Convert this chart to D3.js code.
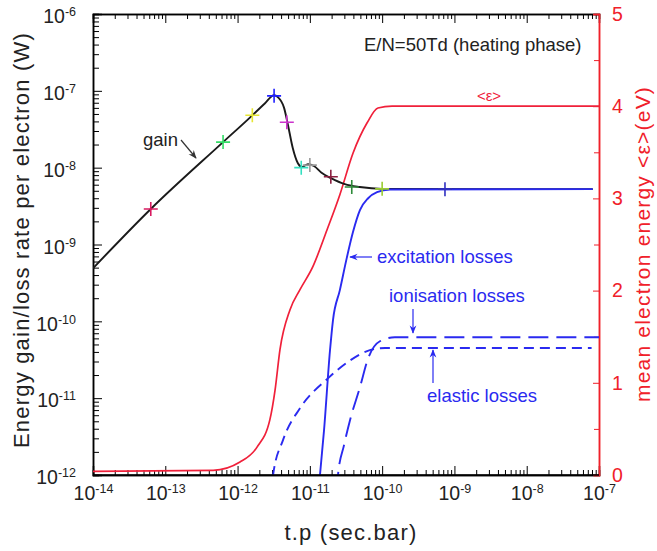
<!DOCTYPE html>
<html>
<head>
<meta charset="utf-8">
<style>
  body { margin: 0; background: #fff; }
  svg { font-family: Arial, "Liberation Sans", sans-serif; }
  .axis .domain { stroke: #000; stroke-width: 1.5px; }
  .axis .tick line { stroke: #000; stroke-width: 1px; }
  .axis .tick text { font-size: 19.5px; fill: #222; }
  .red .domain, .red .tick line { stroke: #f0202a; }
  .red .tick text { fill: #f0202a; }
  .title { letter-spacing: 1.2px; }
</style>
</head>
<body>
<svg width="657" height="551"></svg>
<script src="https://d3js.org/d3.v7.min.js"></script>
<script>
// ---- data ----
// gain, W per electron vs t.p (sec.bar)
let gainT = [1e-14, 6.3e-14, 6.3e-13, 1.6e-12, 2.4e-12, 3.2e-12, 3.6e-12, 4.4e-12, 4.98e-12, 5.8e-12, 6.8e-12, 7.8e-12, 9.4e-12, 1.14e-11, 1.47e-11, 1.96e-11, 3.05e-11, 4.9e-11, 1e-10, 8.2e-8];
let gainV = [4.9e-10, 2.9e-9, 2.15e-8, 4.8e-8, 6.9e-8, 8.8e-8, 8.3e-8, 6.0e-8, 3.6e-8, 1.8e-8, 1.15e-8, 1.02e-8, 1.11e-8, 1.05e-8, 8.5e-9, 7.3e-9, 6.1e-9, 5.6e-9, 5.3e-9, 5.25e-9];

// excitation losses
let excT = [1.3e-11, 1.38e-11, 1.57e-11, 1.9e-11, 2.09e-11, 2.6e-11, 3.26e-11, 3.95e-11, 4.93e-11, 6.4e-11, 8.5e-11, 1.28e-10, 8.2e-8];
let excV = [5e-13, 1e-12, 3.8e-12, 4.2e-11, 1.04e-10, 2.55e-10, 6.85e-10, 1.45e-9, 2.8e-9, 4.0e-9, 4.8e-9, 5.2e-9, 5.25e-9];

// elastic losses
let elaT = [2.9e-12, 3.1e-12, 4.25e-12, 7.3e-12, 1.73e-11, 3.6e-11, 6.2e-11, 1.1e-10, 7.9e-8];
let elaV = [6e-13, 1e-12, 2.84e-12, 7.4e-12, 1.77e-11, 3.1e-11, 4.1e-11, 4.5e-11, 4.5e-11];

// ionisation losses
let ionT = [2.35e-11, 2.45e-11, 2.97e-11, 3.6e-11, 4.93e-11, 6.4e-11, 9.3e-11, 1.5e-10, 1e-7];
let ionV = [6e-13, 1e-12, 2.45e-12, 5.2e-12, 1.39e-11, 3.3e-11, 5.5e-11, 6.2e-11, 6.2e-11];

// mean electron energy <eps> (eV), right axis
let epsT = [1e-14, 4.6e-13, 1.08e-12, 1.85e-12, 2.8e-12, 3.3e-12, 3.86e-12, 5.3e-12, 7.3e-12, 1.1e-11, 1.73e-11, 2.6e-11, 3.95e-11, 6.2e-11, 8.75e-11, 1.37e-10, 1e-7];
let epsV = [0.04, 0.05, 0.14, 0.30, 0.60, 0.92, 1.36, 1.79, 2.01, 2.26, 2.66, 3.04, 3.49, 3.82, 3.98, 4.0, 4.0];

// plus markers on the gain curve
let markT = [6.3e-14, 6.3e-13, 1.6e-12, 3.2e-12, 4.8e-12, 7.6e-12, 1.0e-11, 1.95e-11, 3.8e-11, 1.0e-10, 7.4e-10];
let markV = [2.9e-9, 2.15e-8, 4.8e-8, 8.6e-8, 3.9e-8, 1.0e-8, 1.08e-8, 7.6e-9, 5.6e-9, 5.3e-9, 5.25e-9];
let markC = ["#d81b60", "#33dd66", "#e6e633", "#2020ff", "#cc33cc", "#33e0c0", "#999999", "#8b2040", "#2e8b3a", "#9acd32", "#3030c0"];

let xDecades = [1e-14, 1e-13, 1e-12, 1e-11, 1e-10, 1e-9, 1e-8, 1e-7];
let yDecades = [1e-12, 1e-11, 1e-10, 1e-9, 1e-8, 1e-7, 1e-6];
let epsTicks = [0, 1, 2, 3, 4, 5];
let epsMinor = [0.5, 1.5, 2.5, 3.5, 4.5];

// ---- layout ----
let margin = { top: 14, right: 58, bottom: 76, left: 93 };
let W = 657, H = 551;
let pL = margin.left, pR = W - margin.right, pT = margin.top, pB = H - margin.bottom;

let svg = d3.select("svg");

let x = d3.scaleLog().domain([1e-14, 1e-7]).range([pL, pR]);
let y = d3.scaleLog().domain([1e-12, 1e-6]).range([pB, pT]);
let y2 = d3.scaleLinear().domain([0, 5]).range([pB, pT]);

function minors(decades) {
    let out = [];
    decades.slice(0, -1).forEach(d => { for (let k = 2; k <= 9; k++) out.push(d * k); });
    return out;
}

function supLabels(sel, anchor) {
    sel.selectAll(".tick text").each(function (d) {
        let t = d3.select(this);
        t.text(null).attr("text-anchor", anchor);
        t.append("tspan").text("10");
        t.append("tspan").attr("dy", -7).attr("font-size", 12.5).text(Math.round(Math.log10(d)));
    });
}

// clip for curves
svg.append("clipPath").attr("id", "plot")
    .append("rect").attr("x", pL).attr("y", pT).attr("width", pR - pL).attr("height", pB - pT);

// minor ticks
svg.append("g").attr("class", "axis").attr("transform", `translate(0,${pB})`)
    .call(d3.axisBottom(x).tickValues(minors(xDecades)).tickSize(-5).tickFormat(""));
svg.append("g").attr("class", "axis").attr("transform", `translate(0,${pT})`)
    .call(d3.axisTop(x).tickValues(minors(xDecades)).tickSize(-5).tickFormat(""));
svg.append("g").attr("class", "axis").attr("transform", `translate(${pL},0)`)
    .call(d3.axisLeft(y).tickValues(minors(yDecades)).tickSize(-6).tickFormat(""));

// major ticks
let xb = svg.append("g").attr("class", "axis").attr("transform", `translate(0,${pB})`)
    .call(d3.axisBottom(x).tickValues(xDecades).tickSize(-9).tickPadding(11));
supLabels(xb, "middle");
svg.append("g").attr("class", "axis").attr("transform", `translate(0,${pT})`)
    .call(d3.axisTop(x).tickValues(xDecades).tickSize(-9).tickFormat(""));
let yl = svg.append("g").attr("class", "axis").attr("transform", `translate(${pL},0)`)
    .call(d3.axisLeft(y).tickValues(yDecades).tickSize(-9).tickPadding(17));
supLabels(yl, "end");
yl.selectAll(".tick text").attr("dy", "0.45em");

// right energy axis
svg.append("g").attr("class", "axis red").attr("transform", `translate(${pR},0)`)
    .call(d3.axisRight(y2).tickValues(epsMinor).tickSize(-5).tickFormat(""));
svg.append("g").attr("class", "axis red").attr("transform", `translate(${pR},0)`)
    .call(d3.axisRight(y2).tickValues(epsTicks).tickSize(-6).tickPadding(13).tickFormat(d3.format("d")));

// curves
let logLine = d3.line().x(d => x(d[0])).y(d => y(d[1])).curve(d3.curveMonotoneX);
let epsLine = d3.line().x(d => x(d[0])).y(d => y2(d[1])).curve(d3.curveMonotoneX);

let plot = svg.append("g").attr("clip-path", "url(#plot)");

plot.append("path").datum(d3.zip(epsT, epsV)).attr("d", epsLine)
    .attr("fill", "none").attr("stroke", "#f0203a").attr("stroke-width", 1.7);

plot.append("path").datum(d3.zip(gainT, gainV)).attr("d", logLine)
    .attr("fill", "none").attr("stroke", "#1a1a1a").attr("stroke-width", 1.9);

plot.append("path").datum(d3.zip(elaT, elaV)).attr("d", logLine)
    .attr("fill", "none").attr("stroke", "#2a2af0").attr("stroke-width", 1.9)
    .attr("stroke-dasharray", "10,6");

plot.append("path").datum(d3.zip(ionT, ionV)).attr("d", logLine)
    .attr("fill", "none").attr("stroke", "#2a2af0").attr("stroke-width", 1.9)
    .attr("stroke-dasharray", "20,8");

plot.append("path").datum(d3.zip(excT, excV)).attr("d", logLine)
    .attr("fill", "none").attr("stroke", "#2a2af0").attr("stroke-width", 1.9);

// markers
svg.append("g").selectAll("path.mark")
    .data(d3.zip(markT, markV, markC))
    .join("path")
    .attr("class", "mark")
    .attr("transform", d => `translate(${x(d[0])},${y(d[1])})`)
    .attr("d", "M-7,0H7M0,-7V7")
    .attr("stroke", d => d[2])
    .attr("stroke-width", 1.6);

// bottom frame line on top of curves
svg.append("line").attr("x1", pL).attr("x2", pR).attr("y1", pB).attr("y2", pB)
    .attr("stroke", "#000").attr("stroke-width", 1.5);

// annotations
let defs = svg.append("defs");
["k", "b"].forEach((id, i) => {
    defs.append("marker").attr("id", "arr" + id).attr("viewBox", "0 0 10 10")
        .attr("refX", 9).attr("refY", 5).attr("markerWidth", 7).attr("markerHeight", 7)
        .attr("orient", "auto")
        .append("path").attr("d", "M0,1L10,5L0,9L3,5Z").attr("fill", i ? "#2a2af0" : "#333");
});

svg.append("text").attr("x", 364).attr("y", 51)
    .attr("font-size", 18.5).attr("fill", "#222").text("E/N=50Td (heating phase)");

svg.append("text").attr("x", 489).attr("y", 101).attr("text-anchor", "middle")
    .attr("font-size", 15).attr("fill", "#f0203a").text("<ε>");

svg.append("text").attr("x", 143).attr("y", 146).attr("font-size", 18.5).attr("fill", "#222").text("gain");
svg.append("line").attr("x1", 181).attr("y1", 140).attr("x2", 196).attr("y2", 158)
    .attr("stroke", "#333").attr("stroke-width", 1.2).attr("marker-end", "url(#arrk)");

let blue = "#2a2af0";
svg.append("text").attr("x", 377).attr("y", 263).attr("font-size", 18.5).attr("fill", blue).text("excitation losses");
svg.append("line").attr("x1", 372).attr("y1", 257).attr("x2", 350).attr("y2", 257)
    .attr("stroke", blue).attr("stroke-width", 1.2).attr("marker-end", "url(#arrb)");

svg.append("text").attr("x", 389).attr("y", 302).attr("font-size", 18.5).attr("fill", blue).text("ionisation losses");
svg.append("line").attr("x1", 413).attr("y1", 309).attr("x2", 413).attr("y2", 333)
    .attr("stroke", blue).attr("stroke-width", 1.2).attr("marker-end", "url(#arrb)");

svg.append("text").attr("x", 427).attr("y", 402).attr("font-size", 18.5).attr("fill", blue).text("elastic losses");
svg.append("line").attr("x1", 433).attr("y1", 383).attr("x2", 433).attr("y2", 350)
    .attr("stroke", blue).attr("stroke-width", 1.2).attr("marker-end", "url(#arrb)");

// axis titles
svg.append("text").attr("class", "title").attr("transform", "translate(29,240) rotate(-90)").attr("text-anchor", "middle")
    .attr("font-size", 22).attr("fill", "#222").text("Energy gain/loss rate per electron (W)");
svg.append("text").attr("class", "title").attr("transform", "translate(650,244) rotate(-90)").attr("text-anchor", "middle")
    .attr("font-size", 21).attr("letter-spacing", 1.6).attr("fill", "#f0202a").text("mean electron energy <ε>(eV)");
svg.append("text").attr("class", "title").attr("x", 351).attr("y", 540).attr("text-anchor", "middle")
    .attr("font-size", 22).attr("fill", "#222").text("t.p (sec.bar)");
</script>
</body>
</html>
